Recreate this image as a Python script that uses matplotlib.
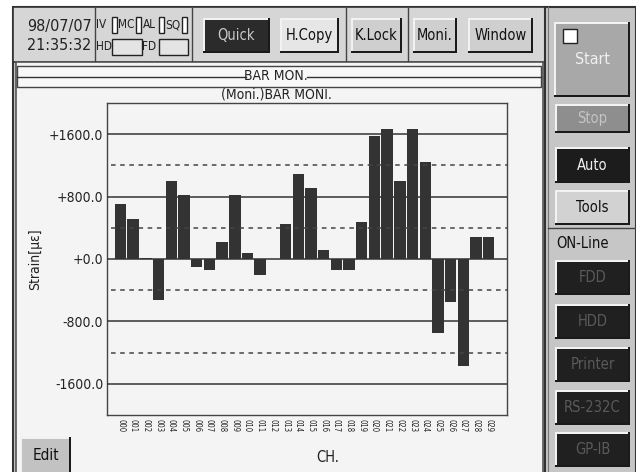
import matplotlib
matplotlib.use('Agg')
import matplotlib.pyplot as plt
from matplotlib.patches import Rectangle
import numpy as np

plt.rcParams['font.family'] = ['DejaVu Sans']
plt.rcParams['font.stretch'] = 'condensed'

# bar monitor data (strain per channel)
channels = ['%03d' % i for i in range(30)]
strain = [706, 519, 15, -528, 996, 821, -98, -136, 221, 821,
          72, -200, 0, 455, 1094, 906, 119, -145, -136, 468,
          1579, 1664, 1004, 1664, 1242, -949, -557, -1370, 285, 285]
y_ticks = [1600, 800, 0, -800, -1600]
y_ticklabels = ['+1600.0', '+800.0', '+0.0', '-800.0', '-1600.0']
solid_levels = [1600, 800, 0, -800, -1600]
dashed_levels = [1200, 400, -400, -1200]

top_buttons = [('Quick', 203, 270, '#2b2b2b', '#c8c8c8'),
               ('H.Copy', 280, 339, '#e6e6e6', '#111111'),
               ('K.Lock', 351, 402, '#cfcfcf', '#111111'),
               ('Moni.', 413, 457, '#cfcfcf', '#111111'),
               ('Window', 468, 533, '#cfcfcf', '#111111')]
side_buttons = [('Stop', 104, 133, '#8e8e8e', '#c4c4c4'),
                ('Auto', 147, 183, '#1c1c1c', '#f0f0f0'),
                ('Tools', 190, 225, '#d2d2d2', '#111111'),
                ('FDD', 260, 295, '#202020', '#5a5a5a'),
                ('HDD', 304, 339, '#202020', '#5a5a5a'),
                ('Printer', 347, 382, '#202020', '#5a5a5a'),
                ('RS-232C', 390, 425, '#202020', '#5a5a5a'),
                ('GP-IB', 432, 467, '#202020', '#5a5a5a')]


def button(ax, x0, x1, y0, y1, face, label, tcolor, size=11):
    ax.add_patch(Rectangle((x0, y0), x1 - x0, y1 - y0, facecolor='#1a1a1a', edgecolor='none'))
    ax.add_patch(Rectangle((x0, y0), x1 - x0 - 2, y1 - y0 - 2, facecolor='#f2f2f2', edgecolor='none'))
    ax.add_patch(Rectangle((x0 + 1.5, y0 + 1.5), x1 - x0 - 3.5, y1 - y0 - 3.5, facecolor=face, edgecolor='none'))
    ax.text((x0 + x1) / 2, (y0 + y1) / 2, label, color=tcolor, fontsize=size, ha='center', va='center')


fig = plt.figure(figsize=(6.36, 4.72), dpi=100)
fig.patch.set_facecolor('white')
ui = fig.add_axes([0, 0, 1, 1])
ui.set_xlim(0, 636)
ui.set_ylim(472, 0)
ui.axis('off')

# frames
ui.add_patch(Rectangle((13, 7), 623, 470, facecolor='#c6c6c6', edgecolor='#333333', lw=1.5))
ui.add_patch(Rectangle((13, 7), 532, 55, facecolor='#d6d6d6', edgecolor='#333333', lw=1.2))
ui.add_patch(Rectangle((16, 62), 527, 415, facecolor='#f4f4f4', edgecolor='#555555', lw=1.2))
for xs in [95, 192, 346, 408]:
    ui.plot([xs, xs], [8, 61], color='#444444', lw=1)
ui.plot([545, 545], [7, 472], color='#333333', lw=1.5)
ui.plot([548, 548], [7, 472], color='#777777', lw=0.8)

# date / status
ui.text(59, 26, '98/07/07', fontsize=11.5, ha='center', va='center', color='#222222')
ui.text(59, 46, '21:35:32', fontsize=11.5, ha='center', va='center', color='#222222')
for lab, xt, xb in [('IV', 96, 112), ('MC', 118, 136), ('AL', 143, 159), ('SQ', 165, 182)]:
    ui.text(xt, 25, lab, fontsize=8.5, ha='left', va='center', color='#222222')
    ui.add_patch(Rectangle((xb, 17), 5, 16, facecolor='white', edgecolor='#222222', lw=1))
for lab, xt, xb, wb in [('HD', 96, 112, 30), ('FD', 142, 159, 29)]:
    ui.text(xt, 47, lab, fontsize=8.5, ha='left', va='center', color='#222222')
    ui.add_patch(Rectangle((xb, 39), wb, 16, facecolor='#e4e4e4', edgecolor='#222222', lw=1))

for lab, x0, x1, face, tc in top_buttons:
    button(ui, x0, x1, 18, 53, face, lab, tc, size=10.5)

# title box
ui.add_patch(Rectangle((17, 66), 524, 21, facecolor='#f8f8f8', edgecolor='#444444', lw=1))
ui.plot([17, 246], [77, 77], color='#333333', lw=1)
ui.plot([307, 541], [77, 77], color='#333333', lw=1)
ui.text(276, 76, 'BAR MON.', fontsize=10, ha='center', va='center', color='#222222')
ui.text(276, 95, '(Moni.)BAR MONI.', fontsize=10, ha='center', va='center', color='#222222')

# right panel
button(ui, 554, 630, 22, 97, '#a8a8a8', 'Start', '#f0f0f0', size=11.5)
ui.add_patch(Rectangle((563, 29), 14, 14, facecolor='white', edgecolor='#222222', lw=1))
for lab, y0, y1, face, tc in side_buttons:
    button(ui, 555, 630, y0, y1, face, lab, tc, size=10.5)
ui.plot([548, 636], [228, 228], color='#444444', lw=1)
ui.text(556, 243, 'ON-Line', fontsize=10.5, ha='left', va='center', color='#111111')

button(ui, 20, 71, 437, 474, '#c2c2c2', 'Edit', '#111111', size=11)

# chart
ax = fig.add_axes([107.3 / 636, 1 - 415 / 472, 400 / 636, 312 / 472])
ax.set_facecolor('#f4f4f4')
x = np.arange(len(channels))
ax.bar(x, strain, width=0.9, color='#333333', edgecolor='none', zorder=2)
for lv in solid_levels:
    ax.axhline(lv, color='#333333', lw=1.1, zorder=3)
for lv in dashed_levels:
    ax.axhline(lv, xmin=0.01, color='#444444', lw=1.1, ls=(0, (3, 3)), zorder=3)
ax.set_xlim(-1.04, 30.46)
ax.set_ylim(-2000, 2000)
ax.set_yticks(y_ticks)
ax.set_yticklabels(y_ticklabels, fontsize=10, color='#222222')
ax.set_xticks(x)
ax.set_xticklabels(channels, rotation=270, fontsize=5.5, color='#222222')
ax.tick_params(length=0, pad=3)
for sp in ax.spines.values():
    sp.set_color('#444444')
    sp.set_linewidth(1)
ax.set_ylabel('Strain[\u03bc\u03b5]', fontsize=10, color='#222222')
ax.yaxis.set_label_coords(-0.163, 0.5)
ax.set_xlabel('CH.', fontsize=10.5, color='#222222')
ax.xaxis.set_label_coords(0.55, -0.112)

fig.savefig('out.png', dpi=100)
